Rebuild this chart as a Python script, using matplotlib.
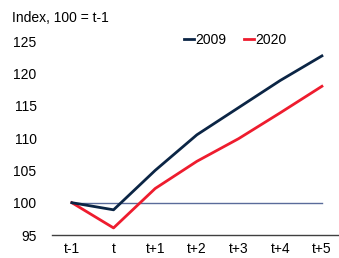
import matplotlib
matplotlib.use("Agg")
import matplotlib.pyplot as plt

categories = ["t-1", "t", "t+1", "t+2", "t+3", "t+4", "t+5"]
s2009 = [100, 98.9, 105.0, 110.5, 114.7, 118.9, 122.7]
s2020 = [100, 96.1, 102.2, 106.4, 109.9, 113.9, 118.0]
baseline = [100] * len(categories)
yticks = [95, 100, 105, 110, 115, 120, 125]

plt.rcParams['font.family'] = ['Liberation Sans', 'DejaVu Sans']

fig = plt.figure(figsize=(3.39, 2.58), dpi=100)
ax = fig.add_axes([0.153, 0.089, 0.847, 0.752])
x = list(range(len(categories)))

ax.plot(x, baseline, color="#5a6b9a", lw=1.0, zorder=1)
l1, = ax.plot(x, s2009, color="#0b2545", lw=2.0, label="2009", zorder=3)
l2, = ax.plot(x, s2020, color="#ee1c2e", lw=2.0, label="2020", zorder=2)

ax.set_xlim(-0.48, 6.41)
ax.set_ylim(95, 125)
ax.set_xticks(x)
ax.set_xticklabels(categories)
ax.set_yticks(yticks)
ax.tick_params(axis="both", length=0, labelsize=10, colors="#000000")
ax.tick_params(axis="y", pad=11)
ax.tick_params(axis="x", pad=5)
for s in ["top", "right", "left"]:
    ax.spines[s].set_visible(False)
ax.spines["bottom"].set_color("#404040")
ax.spines["bottom"].set_linewidth(1.0)

fig.text(0.035, 0.93, "Index, 100 = t-1", fontsize=10, ha="left", va="center")
fig.legend(handles=[l1, l2], loc="center", bbox_to_anchor=(0.694, 0.845),
           ncol=2, frameon=False, fontsize=10, handlelength=0.7,
           handletextpad=0.1, columnspacing=1.3)

fig.savefig("out.png", dpi=100)
